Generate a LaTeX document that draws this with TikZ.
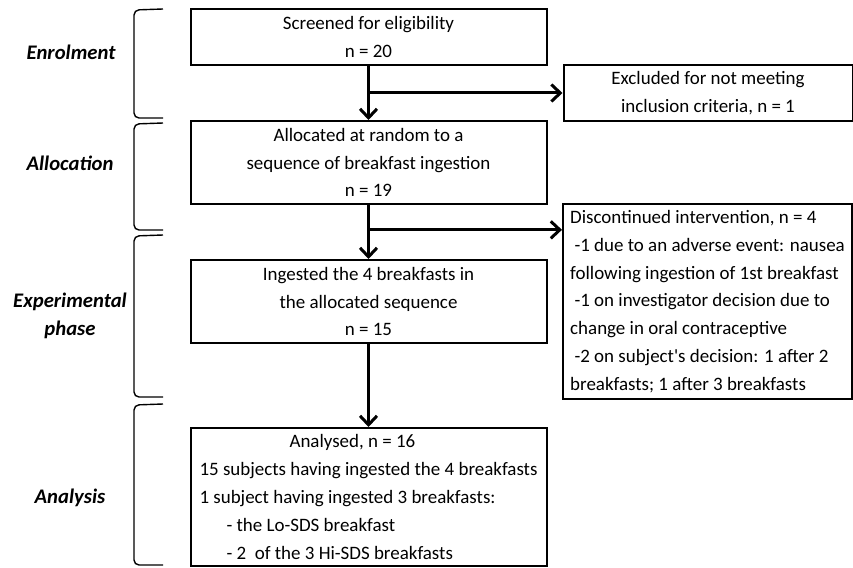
\documentclass[tikz,border=0pt]{standalone}
\usepackage{fontspec}
\setmainfont{Carlito}[Ligatures=TeXOff]
\usetikzlibrary{arrows.meta,positioning,calc}

\begin{document}
\begin{tikzpicture}[
    x=1bp, y=-1bp,
    font=\fontsize{18.95bp}{27.8bp}\selectfont,
    box/.style={
        rectangle,
        draw,
        line width=2bp,
        inner sep=0pt,
        align=center
    },
    sidebox/.style={
        box,
        minimum width=289bp
    },
    phase/.style={
        align=center,
        font=\fontsize{20.7bp}{28bp}\selectfont\bfseries\itshape
    },
    line/.style={draw, line width=3bp, -{Straight Barb[length=9bp,width=17bp]}},
    brace/.style={draw, line width=1.4bp, rounded corners=5bp}
]
\useasboundingbox (0,0) rectangle (853,568);

% Phase labels
\node [phase] (enrol) at (71,52) {Enrolment};
\node [phase] (allocation) at (70,163) {Allocation};
\node [phase] (experimental) at (70,316) {Experimental\\phase};
\node [phase] (analysis) at (70,498) {Analysis};

% Brackets
\draw [brace] (163,9) -- (134,10) -- (134,118) -- (163,118);
\draw [brace] (163,123) -- (134,124) -- (134,230) -- (163,230);
\draw [brace] (163,235) -- (134,236) -- (134,397) -- (163,397);
\draw [brace] (163,404) -- (134,405) -- (134,565) -- (163,565);

% Main column
\node [box, minimum width=356bp, minimum height=56bp] (screen) at (368.5,37)
    {Screened for eligibility\\n = 20};
\node [box, minimum width=356bp, minimum height=83bp] (alloc) at (368.5,162.5)
    {Allocated at random to a\\sequence of breakfast ingestion\\n = 19};
\node [box, minimum width=356bp, minimum height=83bp] (ingest) at (368.5,301.5)
    {Ingested the 4 breakfasts in\\the allocated sequence\\n = 15};
\node [box, minimum width=356bp, minimum height=138bp, align=left] (analysed) at (368.5,497)
    {\hspace*{90bp}Analysed, n = 16\\
    15 subjects having ingested the 4 breakfasts\\
    1 subject having ingested 3 breakfasts:\\
    \hspace*{27bp}- the Lo-SDS breakfast\\
    \hspace*{27bp}- 2~\ of the 3 Hi-SDS breakfasts};

% Side boxes
\node [sidebox, minimum height=56bp] (excluded) at (708,93)
    {Excluded for not meeting\\inclusion criteria, n = 1};
\node [sidebox, minimum height=195bp, align=left] (discont) at (707.5,301.5)
    {Discontinued intervention, n = 4\\
    \ -1 due to an adverse event: nausea\\
    following ingestion of 1st breakfast\\
    \ -1 on investigator decision due to\\
    change in oral contraceptive\\
    \ -2 on subject's decision: 1 after 2\\
    breakfasts; 1 after 3 breakfasts};

% Connections
\coordinate (split) at ($(alloc.south)!0.46!(ingest.north)$);
\draw [line] (screen.south) -- (alloc.north);
\draw [line] (screen.south |- excluded.west) -- (excluded.west);
\draw [line] (alloc.south) -- (ingest.north);
\draw [line] (split) -- (split -| discont.west);
\draw [line] (ingest.south) -- (analysed.north);

\end{tikzpicture}
\end{document}
